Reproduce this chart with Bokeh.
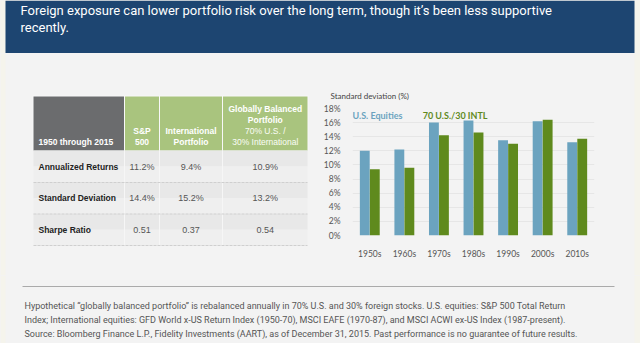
from bokeh.plotting import figure
from bokeh.layouts import column, row
from bokeh.models import Range1d, FactorRange, FixedTicker, Label
from bokeh.core.properties import value
from bokeh.transform import dodge
from bokeh.embed import file_html
from bokeh.resources import INLINE

# ---------------- data ----------------
title_lines = [
    "Foreign exposure can lower portfolio risk over the long term, though it’s been less supportive",
    "recently.",
]
decades = ["1950s", "1960s", "1970s", "1980s", "1990s", "2000s", "2010s"]
us_equities = [12.0, 12.2, 16.0, 16.3, 13.5, 16.2, 13.2]
us70_intl30 = [9.4, 9.6, 14.2, 14.6, 13.0, 16.4, 13.7]
y_ticks = [0, 2, 4, 6, 8, 10, 12, 14, 16, 18]
y_tick_labels = ["0%", "2%", "4%", "6%", "8%", "10%", "12%", "14%", "16%", "18%"]
series_names = ["U.S. Equities", "70 U.S./30 INTL"]
chart_title = "Standard deviation (%)"

table_corner = "1950 through 2015"
table_col_bold = [["S&P", "500"], ["International", "Portfolio"], ["Globally Balanced", "Portfolio"]]
table_col_light = [[], [], ["70% U.S. /", "30% International"]]
table_row_labels = ["Annualized Returns", "Standard Deviation", "Sharpe Ratio"]
sp500_vals = ["11.2%", "14.4%", "0.51"]
intl_vals = ["9.4%", "15.2%", "0.37"]
balanced_vals = ["10.9%", "13.2%", "0.54"]

footnote_lines = [
    "Hypothetical “globally balanced portfolio” is rebalanced annually in 70% U.S. and 30% foreign stocks. U.S. equities: S&P 500 Total Return",
    "Index; International equities: GFD World x-US Return Index (1950-70), MSCI EAFE (1970-87), and MSCI ACWI ex-US Index (1987-present).",
    "Source: Bloomberg Finance L.P., Fidelity Investments (AART), as of December 31, 2015. Past performance is no guarantee of future results.",
]

# ---------------- style ----------------
CREAM = "#f5f4ec"
PANEL = "#f3f3f3"
NAVY = "#1d4571"
DARK = "#6b6c6e"
LGREEN = "#a9c47e"
BLUE = "#6ba3bf"
GREEN = "#5f8a1d"


def page_fig(w, h, x0, x1, ytop, ybot, bg=PANEL):
    f = figure(width=w, height=h, x_range=Range1d(x0, x1), y_range=Range1d(ybot, ytop),
               output_backend="svg", toolbar_location=None, tools="",
               x_axis_type=None, y_axis_type=None, min_border=0,
               outline_line_color=None, background_fill_color=bg, border_fill_color=bg)
    f.frame_align = False
    return f


# ---------------- header ----------------
hdr = page_fig(640, 53, 0, 640, 0, 53, bg=CREAM)
hdr.quad(left=5, right=634, top=0, bottom=53, fill_color=NAVY, line_color=None)
hdr.text(x=[20, 20], y=[10, 27], text=title_lines, text_font=value("Roboto"),
         text_font_size=value("13px"), text_color="white", text_baseline="middle")

# ---------------- table ----------------
tab = page_fig(320, 222, 0, 320, 53, 275)
tab.quad(left=0, right=5, top=53, bottom=275, fill_color=CREAM, line_color=None)

col_lefts = [33, 124.5, 159.5, 222.5]
col_rights = [123.5, 158.5, 221.5, 307]
col_centers = [(l + r) / 2 for l, r in zip(col_lefts, col_rights)]
head_top, head_bot = 96, 150
row_edges = [150, 182, 213.5, 245]

tab.quad(left=32, right=308, top=95, bottom=150, fill_color="#f8f8f8", line_color=None)
tab.quad(left=col_lefts, right=col_rights, top=[head_top] * 4, bottom=[head_bot] * 4,
         fill_color=[DARK, LGREEN, LGREEN, LGREEN], line_color=None)
tab.text(x=[38], y=[141.5], text=[table_corner], text_font=value("Liberation Sans"),
         text_font_style="bold", text_font_size=value("8.5px"), text_color="white",
         text_baseline="middle")
line_h = 11
for i in range(3):
    bold = table_col_bold[i]
    light = table_col_light[i]
    n = len(bold) + len(light)
    ys = [141.5 - line_h * (n - 1 - k) for k in range(n)]
    tab.text(x=[col_centers[i + 1]] * len(bold), y=ys[:len(bold)], text=bold,
             text_font=value("Liberation Sans"), text_font_style="bold",
             text_font_size=value("8.5px"), text_color="white",
             text_align="center", text_baseline="middle")
    if light:
        tab.text(x=[col_centers[i + 1]] * len(light), y=ys[len(bold):], text=light,
                 text_font=value("Liberation Sans"), text_font_size=value("8.5px"),
                 text_color="#fbfdf6", text_align="center", text_baseline="middle")

for r in range(3):
    top, bot = row_edges[r], row_edges[r + 1]
    tab.quad(left=33, right=307, top=top, bottom=top + (bot - top) / 2,
             fill_color="#e8e8e8", line_color=None)
    tab.quad(left=33, right=307, top=top + (bot - top) / 2, bottom=bot,
             fill_color="#efefef", line_color=None)
tab.segment(x0=[124, 159, 222], x1=[124, 159, 222], y0=[150] * 3, y1=[245] * 3,
            line_color="#f6f6f6", line_width=1)
tab.segment(x0=[33] * 3, x1=[307] * 3, y0=row_edges[1:], y1=row_edges[1:],
            line_color="#cfcfcf", line_width=1, line_dash="3 1")
row_centers = [(row_edges[r] + row_edges[r + 1]) / 2 for r in range(3)]
tab.text(x=[38] * 3, y=row_centers, text=table_row_labels, text_font=value("Liberation Sans"),
         text_font_style="bold", text_font_size=value("8.5px"), text_color="#222222",
         text_baseline="middle")
for ci, vals in zip([1, 2, 3], [sp500_vals, intl_vals, balanced_vals]):
    tab.text(x=[col_centers[ci]] * 3, y=row_centers, text=vals, text_font=value("Liberation Sans"),
             text_font_size=value("9px"), text_color="#555555",
             text_align="center", text_baseline="middle")

# ---------------- bar chart ----------------
bar = figure(width=314, height=222, x_range=FactorRange(*decades), y_range=Range1d(0, 18),
             output_backend="svg", toolbar_location=None, tools="",
             min_border_left=28, min_border_right=40, min_border_top=55, min_border_bottom=40,
             outline_line_color=None, background_fill_color=PANEL, border_fill_color=PANEL)
bar.frame_align = False
src = dict(decade=decades, us=us_equities, mix=us70_intl30)
bar.vbar(x=dodge("decade", -0.145, range=bar.x_range), top="us", width=0.285, source=src,
         fill_color=BLUE, line_color=None)
bar.vbar(x=dodge("decade", 0.145, range=bar.x_range), top="mix", width=0.285, source=src,
         fill_color=GREEN, line_color=None)

bar.title.text = chart_title
bar.title.align = "left"
bar.title.offset = -22
bar.title.standoff = 15
bar.title.text_font = "Lato"
bar.title.text_font_size = "8px"
bar.title.text_font_style = "normal"
bar.title.text_color = "#444444"

bar.yaxis.ticker = FixedTicker(ticks=y_ticks)
bar.yaxis.major_label_overrides = {t: l for t, l in zip(y_ticks, y_tick_labels)}
for ax in (bar.xaxis, bar.yaxis):
    ax.axis_line_color = None
    ax.major_tick_line_color = None
    ax.minor_tick_line_color = None
    ax.major_label_text_font = "Lato"
    ax.major_label_text_font_size = "8.5px"
    ax.major_label_text_color = "#555555"
bar.yaxis.major_label_standoff = 6
bar.xaxis.major_label_standoff = 7
bar.xgrid.grid_line_color = None
bar.ygrid.grid_line_color = "#e6e6e6"
bar.ygrid.grid_line_width = 1

bar.add_layout(Label(x=0.0, y=17.0, text=series_names[0], text_font="Lato",
                     text_font_style="bold", text_font_size="9px", text_color=BLUE,
                     text_baseline="middle"))
bar.add_layout(Label(x=2.03, y=17.0, text=series_names[1], text_font="Lato",
                     text_font_style="bold", text_font_size="9px", text_color=GREEN,
                     text_baseline="middle"))

strip = page_fig(6, 222, 0, 6, 53, 275, bg=CREAM)

# ---------------- footnote ----------------
foot = page_fig(640, 68, 0, 640, 275, 343)
foot.quad(left=[0, 634], right=[5, 640], top=[275, 275], bottom=[343, 343],
          fill_color=CREAM, line_color=None)
foot.segment(x0=[22], x1=[614], y0=[286], y1=[286], line_color="#aaaaaa", line_width=1)
foot.text(x=[24] * 3, y=[305, 319, 333], text=footnote_lines, text_font=value("Roboto"),
          text_font_size=value("9px"), text_color="#555555", text_baseline="middle")

mid = row(tab, bar, strip, styles={"background-color": PANEL})
page = column(hdr, mid, foot, styles={"background-color": PANEL})
open("out.html", "w").write(file_html(page, INLINE))
